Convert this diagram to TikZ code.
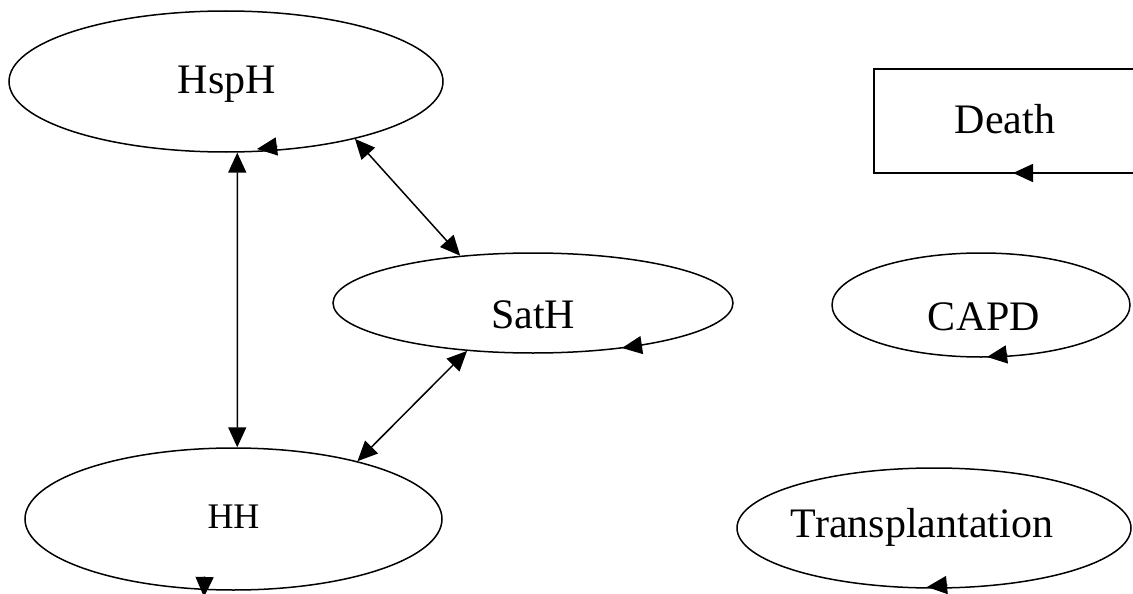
\documentclass[tikz,border=0pt]{standalone}
\usepackage{fontspec}
\setmainfont{Liberation Serif}
\usetikzlibrary{shapes.geometric,arrows.meta}
\begin{document}
\begin{tikzpicture}[x=1pt,y=-1pt,
  state/.style={draw,ellipse,line width=1.5pt,inner sep=0pt},
  box/.style={draw,rectangle,line width=1.5pt,inner sep=0pt},
  lbl/.style={anchor=base,inner sep=0pt,font=\fontsize{42}{48}\selectfont},
  lblsmall/.style={anchor=base,inner sep=0pt,font=\fontsize{36}{42}\selectfont},
  biarrow/.style={line width=1.5pt,{Triangle[length=20pt,width=18pt]}-{Triangle[length=20pt,width=18pt]}},
  stray/.style={line width=1.5pt,-{Triangle[length=20pt,width=18pt]}}]
\fill[white] (0,0) rectangle (1133,594);
\clip (0,0) rectangle (1133,594);
% states
\node[state,minimum width=434pt,minimum height=141pt] (hsph) at (226,81.5) {};
\node[state,minimum width=400pt,minimum height=100pt] (sath) at (533,303) {};
\node[state,minimum width=417pt,minimum height=142pt] (hh) at (233.5,519) {};
\node[state,minimum width=298pt,minimum height=104pt] (capd) at (981,305) {};
\node[state,minimum width=394pt,minimum height=120pt] (trans) at (934,528) {};
\node[box,minimum width=266pt,minimum height=104pt] (death) at (1007,121) {};
% labels
\node[lbl] (hsphT) at (227,93) {HspH};
\node[lbl] (sathT) at (533,328) {SatH};
\node[lblsmall] (hhT) at (233.5,528) {HH};
\node[lbl] (deathT) at (1005,133) {Death};
\node[lbl] (capdT) at (984,330) {CAPD};
\node[lbl] (transT) at (922,537) {Transplantation};
% connectors
\draw[biarrow] (hsph.-81) -- (hh.87);
\draw[biarrow] (hsph.-24.4) -- (sath.147.1);
\draw[biarrow] (sath.216.6) -- (hh.25.3);
% stray arrowheads on the borders
\coordinate (a1) at (277.3,146.4); \coordinate (b1) at (257,149);
\coordinate (a2) at (642.3,345);   \coordinate (b2) at (622,348);
\coordinate (a3) at (204.6,576.5); \coordinate (b3) at (204,597);
\coordinate (a4) at (1033.5,173);  \coordinate (b4) at (1013,173);
\coordinate (a5) at (1007.3,354.4);\coordinate (b5) at (987,357);
\coordinate (a6) at (947.4,585);   \coordinate (b6) at (927,587);
\draw[stray] (a1) -- (b1);
\draw[stray] (a2) -- (b2);
\draw[stray] (a3) -- (b3);
\draw[stray] (a4) -- (b4);
\draw[stray] (a5) -- (b5);
\draw[stray] (a6) -- (b6);
\end{tikzpicture}
\end{document}
